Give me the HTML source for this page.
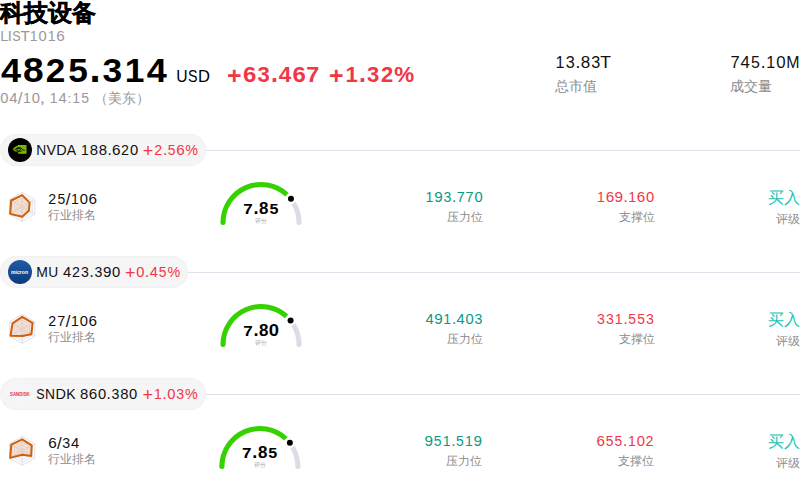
<!DOCTYPE html>
<html><head><meta charset="utf-8"><style>
html,body{margin:0;padding:0;background:#fff;}
body{width:800px;height:488px;overflow:hidden;position:relative;font-family:"Liberation Sans", sans-serif;}
.t{position:absolute;white-space:nowrap;display:inline-block;}
.g{position:absolute;white-space:pre;transform-origin:0 0;}
.pill{position:absolute;left:0;height:32px;border-radius:16px;background:#f5f5f5;box-shadow:inset 0 0 0 1px #f1f1f1;}
.ln{position:absolute;right:0;height:1px;background:#e0e0ec;}
svg{position:absolute;left:0;top:0;overflow:visible}
svg text{font-family:"Liberation Sans", sans-serif;}
</style></head><body>
<span class="t" id="e1" style="left:0.00px;top:1.30px;font-size:24.00px;line-height:24.00px;color:#000;font-weight:800;-webkit-text-stroke:0.4px #000;">科技设备</span><span class="t" id="e8" style="left:94.05px;top:90.76px;font-size:14.00px;line-height:14.00px;color:#999;">（美东）</span><span class="t" id="e10" style="left:555.00px;top:78.76px;font-size:14.00px;line-height:14.00px;color:#8c8c8c;">总市值</span><span class="t" id="e12" style="left:730.00px;top:78.76px;font-size:14.00px;line-height:14.00px;color:#8c8c8c;">成交量</span><div class="pill" style="top:134px;width:206px"></div><div class="ln" style="top:150px;left:206px"></div><span class="t" id="e16" style="left:48.00px;top:208.85px;font-size:12.00px;line-height:12.00px;color:#8c8c8c;">行业排名</span><span class="t" id="e18" style="left:161.00px;width:200px;text-align:center;top:217.92px;font-size:6.00px;line-height:6.00px;color:#aaa;">评分</span><span class="t" id="e20" style="right:317.00px;top:210.85px;font-size:12.00px;line-height:12.00px;color:#8c8c8c;">压力位</span><span class="t" id="e22" style="right:145.50px;top:210.85px;font-size:12.00px;line-height:12.00px;color:#8c8c8c;">支撑位</span><span class="t" id="e23" style="right:0.00px;top:190.46px;font-size:16.00px;line-height:16.00px;color:#22c3b5;">买入</span><span class="t" id="e24" style="right:0.00px;top:212.85px;font-size:12.00px;line-height:12.00px;color:#8c8c8c;">评级</span><div class="pill" style="top:256px;width:188px"></div><div class="ln" style="top:272px;left:188px"></div><span class="t" id="e28" style="left:48.00px;top:330.85px;font-size:12.00px;line-height:12.00px;color:#8c8c8c;">行业排名</span><span class="t" id="e30" style="left:161.00px;width:200px;text-align:center;top:339.92px;font-size:6.00px;line-height:6.00px;color:#aaa;">评分</span><span class="t" id="e32" style="right:317.00px;top:332.85px;font-size:12.00px;line-height:12.00px;color:#8c8c8c;">压力位</span><span class="t" id="e34" style="right:145.50px;top:332.85px;font-size:12.00px;line-height:12.00px;color:#8c8c8c;">支撑位</span><span class="t" id="e35" style="right:0.00px;top:312.46px;font-size:16.00px;line-height:16.00px;color:#22c3b5;">买入</span><span class="t" id="e36" style="right:0.00px;top:334.85px;font-size:12.00px;line-height:12.00px;color:#8c8c8c;">评级</span><div class="pill" style="top:378px;width:206px"></div><div class="ln" style="top:394px;left:206px"></div><span class="t" id="e40" style="left:48.00px;top:452.85px;font-size:12.00px;line-height:12.00px;color:#8c8c8c;">行业排名</span><span class="t" id="e42" style="left:159.90px;width:200px;text-align:center;top:461.92px;font-size:6.00px;line-height:6.00px;color:#aaa;">评分</span><span class="t" id="e44" style="right:317.70px;top:454.85px;font-size:12.00px;line-height:12.00px;color:#8c8c8c;">压力位</span><span class="t" id="e46" style="right:145.82px;top:454.85px;font-size:12.00px;line-height:12.00px;color:#8c8c8c;">支撑位</span><span class="t" id="e47" style="right:0.00px;top:434.46px;font-size:16.00px;line-height:16.00px;color:#22c3b5;">买入</span><span class="t" id="e48" style="right:0.00px;top:456.85px;font-size:12.00px;line-height:12.00px;color:#8c8c8c;">评级</span>
<svg width="800" height="488" viewBox="0 0 800 488"><defs><linearGradient id="mug" x1="0" y1="0" x2="0" y2="1"><stop offset="0" stop-color="#215ca8"/><stop offset="1" stop-color="#0d3a78"/></linearGradient></defs><circle cx="20" cy="150" r="12" fill="#000"/><path d="M18.1,144.90 H26.5 V153.80 H18.1 V152.30 C16,152.20 13.8,150.80 13,149.20 C13.8,147.60 15.8,145.80 18.1,145.40 Z" fill="#76b900"/><path d="M14.9,149.90 C15.8,147.80 19.6,146.90 21.6,148.60 C22.6,149.50 23.4,150.50 24.7,150.30" fill="none" stroke="#000" stroke-width="1"/><ellipse cx="18.7" cy="149.70" rx="1.9" ry="1.25" fill="none" stroke="#000" stroke-width="0.9"/><path d="M15.8,150.70 C17.2,152.00 20.4,152.00 22.2,150.90" fill="none" stroke="#000" stroke-width="0.7"/><polygon points="22.20,192.40 34.76,199.65 34.76,214.15 22.20,221.40 9.64,214.15 9.64,199.65" fill="none" stroke="#dfe0ee" stroke-width="1"/><polygon points="22.20,195.30 32.25,201.10 32.25,212.70 22.20,218.50 12.15,212.70 12.15,201.10" fill="none" stroke="#dfe0ee" stroke-width="1"/><polygon points="22.20,198.20 29.73,202.55 29.73,211.25 22.20,215.60 14.67,211.25 14.67,202.55" fill="none" stroke="#dfe0ee" stroke-width="1"/><polygon points="22.20,201.10 27.22,204.00 27.22,209.80 22.20,212.70 17.18,209.80 17.18,204.00" fill="none" stroke="#dfe0ee" stroke-width="1"/><polygon points="22.20,204.00 24.71,205.45 24.71,208.35 22.20,209.80 19.69,208.35 19.69,205.45" fill="none" stroke="#dfe0ee" stroke-width="1"/><line x1="22.2" y1="206.9" x2="22.20" y2="192.40" stroke="#dfe0ee" stroke-width="1"/><line x1="22.2" y1="206.9" x2="34.76" y2="199.65" stroke="#dfe0ee" stroke-width="1"/><line x1="22.2" y1="206.9" x2="34.76" y2="214.15" stroke="#dfe0ee" stroke-width="1"/><line x1="22.2" y1="206.9" x2="22.20" y2="221.40" stroke="#dfe0ee" stroke-width="1"/><line x1="22.2" y1="206.9" x2="9.64" y2="214.15" stroke="#dfe0ee" stroke-width="1"/><line x1="22.2" y1="206.9" x2="9.64" y2="199.65" stroke="#dfe0ee" stroke-width="1"/><polygon points="22.20,195.16 29.61,202.62 28.86,210.74 22.20,216.76 10.14,213.86 11.15,200.52" fill="rgba(232,128,48,0.2)" stroke="#cf600b" stroke-width="2" stroke-linejoin="round"/><path d="M293.72,203.18 A38,38 0 0 1 299,222.5" fill="none" stroke="#dcdce8" stroke-width="5"/><circle cx="299" cy="222.5" r="2.5" fill="#dcdce8"/><path d="M223,222.5 A38,38 0 0 1 286.99,194.78" fill="none" stroke="#36d200" stroke-width="5"/><circle cx="223" cy="222.5" r="2.5" fill="#36d200"/><circle cx="290.96" cy="198.84" r="3" fill="#000"/><circle cx="20" cy="272" r="12" fill="url(#mug)"/><text x="11" y="273.70" font-size="5.2" font-weight="700" fill="#fff" textLength="17.1" lengthAdjust="spacingAndGlyphs">micron</text><polygon points="22.20,314.40 34.76,321.65 34.76,336.15 22.20,343.40 9.64,336.15 9.64,321.65" fill="none" stroke="#dfe0ee" stroke-width="1"/><polygon points="22.20,317.30 32.25,323.10 32.25,334.70 22.20,340.50 12.15,334.70 12.15,323.10" fill="none" stroke="#dfe0ee" stroke-width="1"/><polygon points="22.20,320.20 29.73,324.55 29.73,333.25 22.20,337.60 14.67,333.25 14.67,324.55" fill="none" stroke="#dfe0ee" stroke-width="1"/><polygon points="22.20,323.10 27.22,326.00 27.22,331.80 22.20,334.70 17.18,331.80 17.18,326.00" fill="none" stroke="#dfe0ee" stroke-width="1"/><polygon points="22.20,326.00 24.71,327.45 24.71,330.35 22.20,331.80 19.69,330.35 19.69,327.45" fill="none" stroke="#dfe0ee" stroke-width="1"/><line x1="22.2" y1="328.9" x2="22.20" y2="314.40" stroke="#dfe0ee" stroke-width="1"/><line x1="22.2" y1="328.9" x2="34.76" y2="321.65" stroke="#dfe0ee" stroke-width="1"/><line x1="22.2" y1="328.9" x2="34.76" y2="336.15" stroke="#dfe0ee" stroke-width="1"/><line x1="22.2" y1="328.9" x2="22.20" y2="343.40" stroke="#dfe0ee" stroke-width="1"/><line x1="22.2" y1="328.9" x2="9.64" y2="336.15" stroke="#dfe0ee" stroke-width="1"/><line x1="22.2" y1="328.9" x2="9.64" y2="321.65" stroke="#dfe0ee" stroke-width="1"/><polygon points="22.20,316.86 32.62,322.88 31.37,334.19 22.20,336.00 10.52,335.64 12.53,323.32" fill="rgba(232,128,48,0.2)" stroke="#cf600b" stroke-width="2" stroke-linejoin="round"/><path d="M293.41,324.67 A38,38 0 0 1 299,344.5" fill="none" stroke="#dcdce8" stroke-width="5"/><circle cx="299" cy="344.5" r="2.5" fill="#dcdce8"/><path d="M223,344.5 A38,38 0 0 1 286.55,316.38" fill="none" stroke="#36d200" stroke-width="5"/><circle cx="223" cy="344.5" r="2.5" fill="#36d200"/><circle cx="290.58" cy="320.38" r="3" fill="#000"/><circle cx="20" cy="394" r="12" fill="#f4f6f9"/><text x="10" y="395.90" font-size="5.3" font-weight="700" fill="#e8313a" textLength="19.8" lengthAdjust="spacingAndGlyphs">SANDISK</text><polygon points="22.20,436.40 34.76,443.65 34.76,458.15 22.20,465.40 9.64,458.15 9.64,443.65" fill="none" stroke="#dfe0ee" stroke-width="1"/><polygon points="22.20,439.30 32.25,445.10 32.25,456.70 22.20,462.50 12.15,456.70 12.15,445.10" fill="none" stroke="#dfe0ee" stroke-width="1"/><polygon points="22.20,442.20 29.73,446.55 29.73,455.25 22.20,459.60 14.67,455.25 14.67,446.55" fill="none" stroke="#dfe0ee" stroke-width="1"/><polygon points="22.20,445.10 27.22,448.00 27.22,453.80 22.20,456.70 17.18,453.80 17.18,448.00" fill="none" stroke="#dfe0ee" stroke-width="1"/><polygon points="22.20,448.00 24.71,449.45 24.71,452.35 22.20,453.80 19.69,452.35 19.69,449.45" fill="none" stroke="#dfe0ee" stroke-width="1"/><line x1="22.2" y1="450.9" x2="22.20" y2="436.40" stroke="#dfe0ee" stroke-width="1"/><line x1="22.2" y1="450.9" x2="34.76" y2="443.65" stroke="#dfe0ee" stroke-width="1"/><line x1="22.2" y1="450.9" x2="34.76" y2="458.15" stroke="#dfe0ee" stroke-width="1"/><line x1="22.2" y1="450.9" x2="22.20" y2="465.40" stroke="#dfe0ee" stroke-width="1"/><line x1="22.2" y1="450.9" x2="9.64" y2="458.15" stroke="#dfe0ee" stroke-width="1"/><line x1="22.2" y1="450.9" x2="9.64" y2="443.65" stroke="#dfe0ee" stroke-width="1"/><polygon points="22.20,439.44 31.74,445.39 31.12,456.05 22.20,454.81 10.14,457.86 11.28,444.59" fill="rgba(232,128,48,0.2)" stroke="#cf600b" stroke-width="2" stroke-linejoin="round"/><path d="M292.62,447.18 A38,38 0 0 1 297.9,466.5" fill="none" stroke="#dcdce8" stroke-width="5"/><circle cx="297.9" cy="466.5" r="2.5" fill="#dcdce8"/><path d="M221.89999999999998,466.5 A38,38 0 0 1 285.89,438.78" fill="none" stroke="#36d200" stroke-width="5"/><circle cx="221.89999999999998" cy="466.5" r="2.5" fill="#36d200"/><circle cx="289.86" cy="442.84" r="3" fill="#000"/><text transform="matrix(0.9709 0 0 1.0000 0.19 40.75)" font-size="14.83" fill="#999">L</text><text transform="matrix(0.9981 0 0 1.0000 7.80 40.75)" font-size="14.83" fill="#999">I</text><text transform="matrix(0.8413 0 0 1.0082 12.28 40.80)" font-size="14.83" fill="#999">S</text><text transform="matrix(1.0293 0 0 1.0000 20.43 40.75)" font-size="14.83" fill="#999">T</text><text transform="matrix(0.9502 0 0 1.0000 29.82 40.75)" font-size="14.83" fill="#999">1</text><text transform="matrix(0.9948 0 0 1.0082 38.61 40.80)" font-size="14.83" fill="#999">0</text><text transform="matrix(0.9502 0 0 1.0000 47.64 40.75)" font-size="14.83" fill="#999">1</text><text transform="matrix(1.0296 0 0 1.0082 56.28 40.80)" font-size="14.83" fill="#999">6</text><text transform="matrix(1.0659 0 0 1.0000 0.89 81.92)" font-size="33.91" fill="#000" font-weight="700">4</text><text transform="matrix(1.0950 0 0 1.0082 23.04 82.04)" font-size="33.91" fill="#000" font-weight="700">8</text><text transform="matrix(1.0385 0 0 1.0031 45.84 81.92)" font-size="33.91" fill="#000" font-weight="700">2</text><text transform="matrix(1.0410 0 0 1.0052 68.18 82.04)" font-size="33.91" fill="#000" font-weight="700">5</text><text transform="matrix(1.1756 0 0 1.1975 89.62 81.92)" font-size="33.91" fill="#000" font-weight="700">.</text><text transform="matrix(1.0429 0 0 1.0061 102.55 81.99)" font-size="33.91" fill="#000" font-weight="700">3</text><text transform="matrix(1.0428 0 0 1.0000 124.87 81.92)" font-size="33.91" fill="#000" font-weight="700">1</text><text transform="matrix(1.0659 0 0 1.0000 146.64 81.92)" font-size="33.91" fill="#000" font-weight="700">4</text><text transform="matrix(0.9275 0 0 1.0052 176.18 81.82)" font-size="16.95" fill="#000">U</text><text transform="matrix(0.8413 0 0 1.0082 188.11 81.82)" font-size="16.95" fill="#000">S</text><text transform="matrix(0.9764 0 0 1.0000 198.07 81.76)" font-size="16.95" fill="#000">D</text><text transform="matrix(1.1781 0 0 1.1652 227.07 84.02)" font-size="21.19" fill="#f23645" font-weight="700">+</text><text transform="matrix(1.1325 0 0 1.0069 243.11 82.15)" font-size="21.19" fill="#f23645" font-weight="700">6</text><text transform="matrix(1.0429 0 0 1.0061 257.50 82.12)" font-size="21.19" fill="#f23645" font-weight="700">3</text><text transform="matrix(1.1756 0 0 1.1975 270.93 82.08)" font-size="21.19" fill="#f23645" font-weight="700">.</text><text transform="matrix(1.0659 0 0 1.0000 278.74 82.08)" font-size="21.19" fill="#f23645" font-weight="700">4</text><text transform="matrix(1.1325 0 0 1.0069 292.46 82.15)" font-size="21.19" fill="#f23645" font-weight="700">6</text><text transform="matrix(1.1048 0 0 1.0000 306.35 82.08)" font-size="21.19" fill="#f23645" font-weight="700">7</text><text transform="matrix(1.1781 0 0 1.1652 329.07 84.02)" font-size="21.19" fill="#f23645" font-weight="700">+</text><text transform="matrix(1.0428 0 0 1.0000 345.61 82.08)" font-size="21.19" fill="#f23645" font-weight="700">1</text><text transform="matrix(1.1756 0 0 1.1975 359.02 82.08)" font-size="21.19" fill="#f23645" font-weight="700">.</text><text transform="matrix(1.0429 0 0 1.0061 367.10 82.12)" font-size="21.19" fill="#f23645" font-weight="700">3</text><text transform="matrix(1.0385 0 0 1.0031 381.01 82.08)" font-size="21.19" fill="#f23645" font-weight="700">2</text><text transform="matrix(1.0565 0 0 1.0145 394.18 82.19)" font-size="21.19" fill="#f23645" font-weight="700">%</text><text transform="matrix(0.9948 0 0 1.0082 0.35 102.80)" font-size="14.83" fill="#999">0</text><text transform="matrix(0.9950 0 0 1.0000 9.25 102.75)" font-size="14.83" fill="#999">4</text><text transform="matrix(1.1444 0 0 1.0561 17.81 103.90)" font-size="14.83" fill="#999">/</text><text transform="matrix(0.9502 0 0 1.0000 23.00 102.75)" font-size="14.83" fill="#999">1</text><text transform="matrix(0.9948 0 0 1.0082 31.78 102.80)" font-size="14.83" fill="#999">0</text><text transform="matrix(1.3757 0 0 0.9653 39.59 102.54)" font-size="14.83" fill="#999">,</text><text transform="matrix(0.9502 0 0 1.0000 49.70 102.75)" font-size="14.83" fill="#999">1</text><text transform="matrix(0.9950 0 0 1.0000 58.49 102.75)" font-size="14.83" fill="#999">4</text><text transform="matrix(1.0212 0 0 0.9237 67.30 102.75)" font-size="14.83" fill="#999">:</text><text transform="matrix(0.9502 0 0 1.0000 72.23 102.75)" font-size="14.83" fill="#999">1</text><text transform="matrix(0.9389 0 0 1.0052 81.19 102.80)" font-size="14.83" fill="#999">5</text><text transform="matrix(0.9502 0 0 1.0000 555.53 67.56)" font-size="16.95" fill="#111">1</text><text transform="matrix(0.9554 0 0 1.0082 565.77 67.62)" font-size="16.95" fill="#111">3</text><text transform="matrix(1.0212 0 0 1.0946 575.49 67.56)" font-size="16.95" fill="#111">.</text><text transform="matrix(1.0056 0 0 1.0082 580.78 67.62)" font-size="16.95" fill="#111">8</text><text transform="matrix(0.9554 0 0 1.0082 591.23 67.62)" font-size="16.95" fill="#111">3</text><text transform="matrix(1.0293 0 0 1.0000 600.36 67.56)" font-size="16.95" fill="#111">T</text><text transform="matrix(0.9731 0 0 1.0000 730.47 67.56)" font-size="16.95" fill="#111">7</text><text transform="matrix(0.9950 0 0 1.0000 740.57 67.56)" font-size="16.95" fill="#111">4</text><text transform="matrix(0.9389 0 0 1.0052 750.96 67.62)" font-size="16.95" fill="#111">5</text><text transform="matrix(1.0212 0 0 1.0946 760.66 67.56)" font-size="16.95" fill="#111">.</text><text transform="matrix(0.9502 0 0 1.0000 766.16 67.56)" font-size="16.95" fill="#111">1</text><text transform="matrix(0.9948 0 0 1.0082 776.19 67.62)" font-size="16.95" fill="#111">0</text><text transform="matrix(0.9410 0 0 1.0000 786.25 67.56)" font-size="16.95" fill="#111">M</text><text transform="matrix(0.9322 0 0 1.0000 36.24 155.16)" font-size="14.83" fill="#111">N</text><text transform="matrix(0.9578 0 0 1.0000 46.52 155.16)" font-size="14.83" fill="#111">V</text><text transform="matrix(0.9764 0 0 1.0000 56.23 155.16)" font-size="14.83" fill="#111">D</text><text transform="matrix(0.9507 0 0 1.0000 66.66 155.16)" font-size="14.83" fill="#111">A</text><text transform="matrix(0.9502 0 0 1.0000 81.07 155.16)" font-size="14.83" fill="#111">1</text><text transform="matrix(1.0056 0 0 1.0082 89.82 155.21)" font-size="14.83" fill="#111">8</text><text transform="matrix(1.0056 0 0 1.0082 98.72 155.21)" font-size="14.83" fill="#111">8</text><text transform="matrix(1.0212 0 0 1.0946 107.44 155.16)" font-size="14.83" fill="#111">.</text><text transform="matrix(1.0296 0 0 1.0082 111.98 155.21)" font-size="14.83" fill="#111">6</text><text transform="matrix(0.9589 0 0 1.0031 121.00 155.16)" font-size="14.83" fill="#111">2</text><text transform="matrix(0.9948 0 0 1.0082 129.94 155.21)" font-size="14.83" fill="#111">0</text><text transform="matrix(1.2160 0 0 1.2094 142.79 156.73)" font-size="14.83" fill="#f23645">+</text><text transform="matrix(0.9589 0 0 1.0031 154.22 155.16)" font-size="14.83" fill="#f23645">2</text><text transform="matrix(1.0212 0 0 1.0946 162.93 155.16)" font-size="14.83" fill="#f23645">.</text><text transform="matrix(0.9389 0 0 1.0052 167.79 155.21)" font-size="14.83" fill="#f23645">5</text><text transform="matrix(1.0296 0 0 1.0082 176.37 155.21)" font-size="14.83" fill="#f23645">6</text><text transform="matrix(0.9691 0 0 1.0201 185.34 155.27)" font-size="14.83" fill="#f23645">%</text><text transform="matrix(0.9589 0 0 1.0031 48.31 204.16)" font-size="14.83" fill="#111">2</text><text transform="matrix(0.9389 0 0 1.0052 57.43 204.21)" font-size="14.83" fill="#111">5</text><text transform="matrix(1.1444 0 0 1.0561 65.81 205.30)" font-size="14.83" fill="#111">/</text><text transform="matrix(0.9502 0 0 1.0000 71.00 204.16)" font-size="14.83" fill="#111">1</text><text transform="matrix(0.9948 0 0 1.0082 79.78 204.21)" font-size="14.83" fill="#111">0</text><text transform="matrix(1.0296 0 0 1.0082 88.55 204.21)" font-size="14.83" fill="#111">6</text><text transform="matrix(1.1048 0 0 1.0000 243.23 213.64)" font-size="15.47" fill="#000" font-weight="700">7</text><text transform="matrix(1.1756 0 0 1.1975 253.38 213.64)" font-size="15.47" fill="#000" font-weight="700">.</text><text transform="matrix(1.0950 0 0 1.0082 259.03 213.70)" font-size="15.47" fill="#000" font-weight="700">8</text><text transform="matrix(1.0410 0 0 1.0052 269.46 213.70)" font-size="15.47" fill="#000" font-weight="700">5</text><text transform="matrix(0.9502 0 0 1.0000 425.56 202.16)" font-size="14.83" fill="#089981">1</text><text transform="matrix(1.0276 0 0 1.0082 434.17 202.21)" font-size="14.83" fill="#089981">9</text><text transform="matrix(0.9554 0 0 1.0082 443.43 202.21)" font-size="14.83" fill="#089981">3</text><text transform="matrix(1.0212 0 0 1.0946 451.93 202.16)" font-size="14.83" fill="#089981">.</text><text transform="matrix(0.9731 0 0 1.0000 456.67 202.16)" font-size="14.83" fill="#089981">7</text><text transform="matrix(0.9731 0 0 1.0000 465.58 202.16)" font-size="14.83" fill="#089981">7</text><text transform="matrix(0.9948 0 0 1.0082 474.42 202.21)" font-size="14.83" fill="#089981">0</text><text transform="matrix(0.9502 0 0 1.0000 597.06 202.16)" font-size="14.83" fill="#f23645">1</text><text transform="matrix(1.0296 0 0 1.0082 605.70 202.21)" font-size="14.83" fill="#f23645">6</text><text transform="matrix(1.0276 0 0 1.0082 614.57 202.21)" font-size="14.83" fill="#f23645">9</text><text transform="matrix(1.0212 0 0 1.0946 623.43 202.16)" font-size="14.83" fill="#f23645">.</text><text transform="matrix(0.9502 0 0 1.0000 628.23 202.16)" font-size="14.83" fill="#f23645">1</text><text transform="matrix(1.0296 0 0 1.0082 636.87 202.21)" font-size="14.83" fill="#f23645">6</text><text transform="matrix(0.9948 0 0 1.0082 645.92 202.21)" font-size="14.83" fill="#f23645">0</text><text transform="matrix(0.9410 0 0 1.0000 36.23 277.16)" font-size="14.83" fill="#111">M</text><text transform="matrix(0.9275 0 0 1.0052 48.23 277.21)" font-size="14.83" fill="#111">U</text><text transform="matrix(0.9950 0 0 1.0000 63.11 277.16)" font-size="14.83" fill="#111">4</text><text transform="matrix(0.9589 0 0 1.0031 71.98 277.16)" font-size="14.83" fill="#111">2</text><text transform="matrix(0.9554 0 0 1.0082 81.10 277.21)" font-size="14.83" fill="#111">3</text><text transform="matrix(1.0212 0 0 1.0946 89.60 277.16)" font-size="14.83" fill="#111">.</text><text transform="matrix(0.9554 0 0 1.0082 94.46 277.21)" font-size="14.83" fill="#111">3</text><text transform="matrix(1.0276 0 0 1.0082 103.01 277.21)" font-size="14.83" fill="#111">9</text><text transform="matrix(0.9948 0 0 1.0082 112.10 277.21)" font-size="14.83" fill="#111">0</text><text transform="matrix(1.2160 0 0 1.2094 124.90 278.73)" font-size="14.83" fill="#f23645">+</text><text transform="matrix(0.9948 0 0 1.0082 136.36 277.21)" font-size="14.83" fill="#f23645">0</text><text transform="matrix(1.0212 0 0 1.0946 145.04 277.16)" font-size="14.83" fill="#f23645">.</text><text transform="matrix(0.9950 0 0 1.0000 149.72 277.16)" font-size="14.83" fill="#f23645">4</text><text transform="matrix(0.9389 0 0 1.0052 158.80 277.21)" font-size="14.83" fill="#f23645">5</text><text transform="matrix(0.9691 0 0 1.0201 167.45 277.27)" font-size="14.83" fill="#f23645">%</text><text transform="matrix(0.9589 0 0 1.0031 48.31 326.16)" font-size="14.83" fill="#111">2</text><text transform="matrix(0.9731 0 0 1.0000 57.31 326.16)" font-size="14.83" fill="#111">7</text><text transform="matrix(1.1444 0 0 1.0561 65.81 327.30)" font-size="14.83" fill="#111">/</text><text transform="matrix(0.9502 0 0 1.0000 71.00 326.16)" font-size="14.83" fill="#111">1</text><text transform="matrix(0.9948 0 0 1.0082 79.78 326.21)" font-size="14.83" fill="#111">0</text><text transform="matrix(1.0296 0 0 1.0082 88.55 326.21)" font-size="14.83" fill="#111">6</text><text transform="matrix(1.1048 0 0 1.0000 243.23 335.64)" font-size="15.47" fill="#000" font-weight="700">7</text><text transform="matrix(1.1756 0 0 1.1975 253.38 335.64)" font-size="15.47" fill="#000" font-weight="700">.</text><text transform="matrix(1.0950 0 0 1.0082 259.03 335.70)" font-size="15.47" fill="#000" font-weight="700">8</text><text transform="matrix(1.1908 0 0 1.0082 268.80 335.70)" font-size="15.47" fill="#000" font-weight="700">0</text><text transform="matrix(0.9950 0 0 1.0000 425.44 324.16)" font-size="14.83" fill="#089981">4</text><text transform="matrix(1.0276 0 0 1.0082 434.17 324.21)" font-size="14.83" fill="#089981">9</text><text transform="matrix(0.9502 0 0 1.0000 443.37 324.16)" font-size="14.83" fill="#089981">1</text><text transform="matrix(1.0212 0 0 1.0946 451.93 324.16)" font-size="14.83" fill="#089981">.</text><text transform="matrix(0.9950 0 0 1.0000 456.61 324.16)" font-size="14.83" fill="#089981">4</text><text transform="matrix(0.9948 0 0 1.0082 465.52 324.21)" font-size="14.83" fill="#089981">0</text><text transform="matrix(0.9554 0 0 1.0082 474.60 324.21)" font-size="14.83" fill="#089981">3</text><text transform="matrix(0.9554 0 0 1.0082 597.12 324.21)" font-size="14.83" fill="#f23645">3</text><text transform="matrix(0.9554 0 0 1.0082 606.03 324.21)" font-size="14.83" fill="#f23645">3</text><text transform="matrix(0.9502 0 0 1.0000 614.87 324.16)" font-size="14.83" fill="#f23645">1</text><text transform="matrix(1.0212 0 0 1.0946 623.43 324.16)" font-size="14.83" fill="#f23645">.</text><text transform="matrix(0.9389 0 0 1.0052 628.29 324.21)" font-size="14.83" fill="#f23645">5</text><text transform="matrix(0.9389 0 0 1.0052 637.19 324.21)" font-size="14.83" fill="#f23645">5</text><text transform="matrix(0.9554 0 0 1.0082 646.10 324.21)" font-size="14.83" fill="#f23645">3</text><text transform="matrix(0.8413 0 0 1.0082 36.36 399.21)" font-size="14.83" fill="#111">S</text><text transform="matrix(0.9322 0 0 1.0000 45.11 399.16)" font-size="14.83" fill="#111">N</text><text transform="matrix(0.9764 0 0 1.0000 55.55 399.16)" font-size="14.83" fill="#111">D</text><text transform="matrix(0.9518 0 0 1.0000 66.34 399.16)" font-size="14.83" fill="#111">K</text><text transform="matrix(1.0056 0 0 1.0082 80.07 399.21)" font-size="14.83" fill="#111">8</text><text transform="matrix(1.0296 0 0 1.0082 88.87 399.21)" font-size="14.83" fill="#111">6</text><text transform="matrix(0.9948 0 0 1.0082 97.92 399.21)" font-size="14.83" fill="#111">0</text><text transform="matrix(1.0212 0 0 1.0946 106.60 399.16)" font-size="14.83" fill="#111">.</text><text transform="matrix(0.9554 0 0 1.0082 111.46 399.21)" font-size="14.83" fill="#111">3</text><text transform="matrix(1.0056 0 0 1.0082 120.15 399.21)" font-size="14.83" fill="#111">8</text><text transform="matrix(0.9948 0 0 1.0082 129.10 399.21)" font-size="14.83" fill="#111">0</text><text transform="matrix(1.2160 0 0 1.2094 142.40 400.73)" font-size="14.83" fill="#f23645">+</text><text transform="matrix(0.9502 0 0 1.0000 153.98 399.16)" font-size="14.83" fill="#f23645">1</text><text transform="matrix(1.0212 0 0 1.0946 162.54 399.16)" font-size="14.83" fill="#f23645">.</text><text transform="matrix(0.9948 0 0 1.0082 167.22 399.21)" font-size="14.83" fill="#f23645">0</text><text transform="matrix(0.9554 0 0 1.0082 176.31 399.21)" font-size="14.83" fill="#f23645">3</text><text transform="matrix(0.9691 0 0 1.0201 184.95 399.27)" font-size="14.83" fill="#f23645">%</text><text transform="matrix(1.0296 0 0 1.0082 48.20 448.21)" font-size="14.83" fill="#111">6</text><text transform="matrix(1.1444 0 0 1.0561 56.91 449.30)" font-size="14.83" fill="#111">/</text><text transform="matrix(0.9554 0 0 1.0082 62.14 448.21)" font-size="14.83" fill="#111">3</text><text transform="matrix(0.9950 0 0 1.0000 70.88 448.16)" font-size="14.83" fill="#111">4</text><text transform="matrix(1.1048 0 0 1.0000 242.12 457.64)" font-size="15.47" fill="#000" font-weight="700">7</text><text transform="matrix(1.1756 0 0 1.1975 252.27 457.64)" font-size="15.47" fill="#000" font-weight="700">.</text><text transform="matrix(1.0950 0 0 1.0082 257.92 457.70)" font-size="15.47" fill="#000" font-weight="700">8</text><text transform="matrix(1.0410 0 0 1.0052 268.35 457.70)" font-size="15.47" fill="#000" font-weight="700">5</text><text transform="matrix(1.0276 0 0 1.0082 424.57 446.21)" font-size="14.83" fill="#089981">9</text><text transform="matrix(0.9389 0 0 1.0052 433.83 446.21)" font-size="14.83" fill="#089981">5</text><text transform="matrix(0.9502 0 0 1.0000 442.68 446.16)" font-size="14.83" fill="#089981">1</text><text transform="matrix(1.0212 0 0 1.0946 451.24 446.16)" font-size="14.83" fill="#089981">.</text><text transform="matrix(0.9389 0 0 1.0052 456.10 446.21)" font-size="14.83" fill="#089981">5</text><text transform="matrix(0.9502 0 0 1.0000 464.95 446.16)" font-size="14.83" fill="#089981">1</text><text transform="matrix(1.0276 0 0 1.0082 473.56 446.21)" font-size="14.83" fill="#089981">9</text><text transform="matrix(1.0296 0 0 1.0082 596.48 446.21)" font-size="14.83" fill="#f23645">6</text><text transform="matrix(0.9389 0 0 1.0052 605.71 446.21)" font-size="14.83" fill="#f23645">5</text><text transform="matrix(0.9389 0 0 1.0052 614.62 446.21)" font-size="14.83" fill="#f23645">5</text><text transform="matrix(1.0212 0 0 1.0946 623.11 446.16)" font-size="14.83" fill="#f23645">.</text><text transform="matrix(0.9502 0 0 1.0000 627.92 446.16)" font-size="14.83" fill="#f23645">1</text><text transform="matrix(0.9948 0 0 1.0082 636.71 446.21)" font-size="14.83" fill="#f23645">0</text><text transform="matrix(0.9589 0 0 1.0031 645.58 446.16)" font-size="14.83" fill="#f23645">2</text></svg>
</body></html>
